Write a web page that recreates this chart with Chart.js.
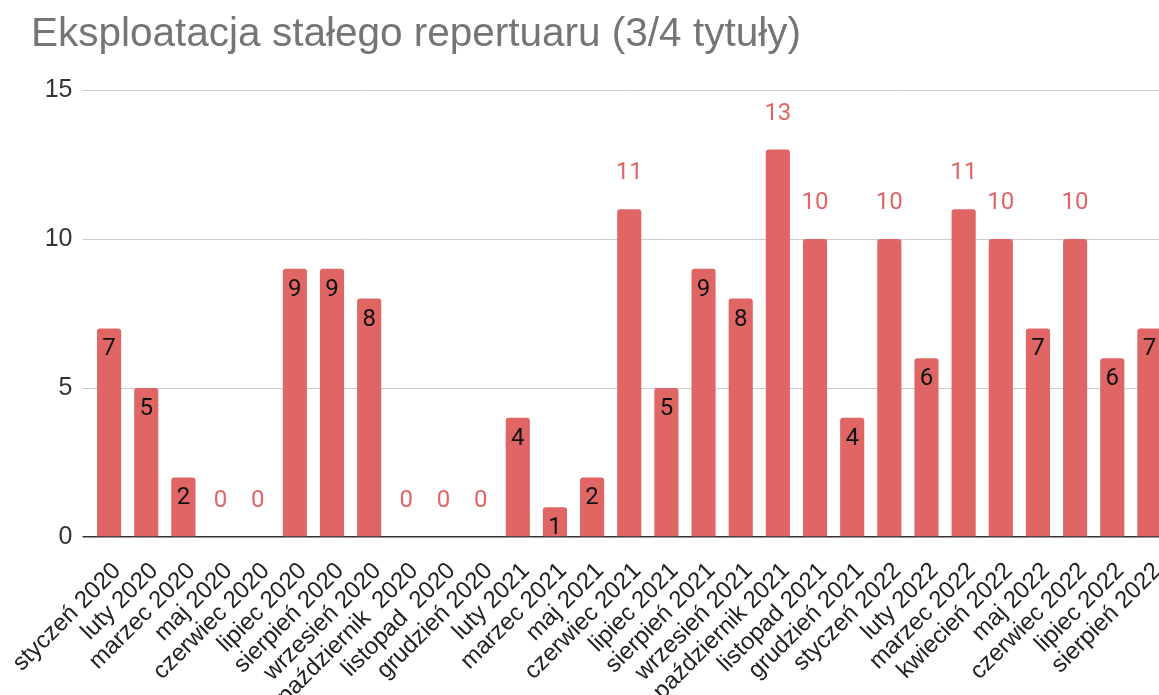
<!DOCTYPE html>
<html>
<head>
<meta charset="utf-8">
<script src="https://cdn.jsdelivr.net/npm/chart.js@4"></script>
<style>
  html, body { margin: 0; padding: 0; background: #fff; overflow: hidden; }
  #wrap { width: 1168px; height: 695px; }
</style>
</head>
<body>
<div id="wrap"><canvas id="myChart" width="1168" height="695"></canvas></div>
<script>
// Chart data
const title = 'Eksploatacja stałego repertuaru (3/4 tytuły)';
const months = [
    'styczeń 2020', 'luty 2020', 'marzec 2020', 'maj 2020', 'czerwiec 2020',
    'lipiec 2020', 'sierpień 2020', 'wrzesień 2020', 'październik  2020', 'listopad  2020',
    'grudzień 2020', 'luty 2021', 'marzec 2021', 'maj 2021', 'czerwiec 2021',
    'lipiec 2021', 'sierpień 2021', 'wrzesień 2021', 'październik 2021', 'listopad 2021',
    'grudzień 2021', 'styczeń 2022', 'luty 2022', 'marzec 2022', 'kwiecień 2022',
    'maj 2022', 'czerwiec 2022', 'lipiec 2022', 'sierpień 2022'
];
const values = [7, 5, 2, 0, 0, 9, 9, 8, 0, 0, 0, 4, 1, 2, 11, 5, 9, 8, 13, 10, 4, 10, 6, 11, 10, 7, 10, 6, 7];
const yTicks = [0, 5, 10, 15];

const barColor = '#e06666';

// Value labels on the bars (inside near the top, or above for 0 and >= 10)
const barLabels = {
    id: 'barLabels',
    afterDatasetsDraw(chart) {
        const ctx = chart.ctx;
        const meta = chart.getDatasetMeta(0);
        ctx.save();
        ctx.font = '24px Roboto';
        ctx.textAlign = 'center';
        ctx.textBaseline = 'middle';
        meta.data.forEach((bar, i) => {
            const v = values[i];
            const outside = v === 0 || v >= 10;
            ctx.fillStyle = outside ? barColor : '#111';
            ctx.fillText(String(v), bar.x, outside ? bar.y - 36 : bar.y + 21);
        });
        ctx.restore();
    }
};

const ctx = document.getElementById('myChart').getContext('2d');
const myChart = new Chart(ctx, {
    type: 'bar',
    data: {
        labels: months,
        datasets: [{
            data: values,
            backgroundColor: barColor,
            borderRadius: { topLeft: 3, topRight: 3 },
            borderSkipped: 'start',
            categoryPercentage: 1,
            barPercentage: 0.65
        }]
    },
    options: {
        responsive: false,
        animation: false,
        devicePixelRatio: 1,
        layout: { padding: { left: 31, top: 11, right: 0, bottom: 0 } },
        plugins: {
            legend: { display: false },
            tooltip: { enabled: false },
            title: {
                display: true,
                text: title,
                align: 'start',
                color: '#757575',
                font: { family: 'Liberation Sans', size: 40.5, weight: 'normal' },
                padding: { top: 0, bottom: 30.4 }
            }
        },
        scales: {
            x: {
                grid: { display: false },
                border: { display: false },
                ticks: {
                    color: '#222',
                    font: { family: 'Liberation Sans', size: 24 },
                    minRotation: 45,
                    maxRotation: 45,
                    autoSkip: false,
                    padding: 12,
                    labelOffset: 8
                },
                afterFit: s => { s.height = 158; s.paddingLeft = 0; s.paddingRight = 0; }
            },
            y: {
                min: 0,
                max: 15,
                afterBuildTicks: s => { s.ticks = yTicks.map(v => ({ value: v })); },
                grid: {
                    color: c => c.tick && c.tick.value === 0 ? '#333' : '#ccc',
                    lineWidth: c => c.tick && c.tick.value === 0 ? 1.5 : 1,
                    tickLength: 8
                },
                border: { display: false },
                ticks: {
                    color: '#333',
                    font: { family: 'Liberation Sans', size: 25 },
                    padding: 10
                },
                afterFit: s => { s.width = 59.5; s.paddingTop = 0; s.paddingBottom = 0; }
            }
        }
    },
    plugins: [barLabels]
});
</script>
</body>
</html>
